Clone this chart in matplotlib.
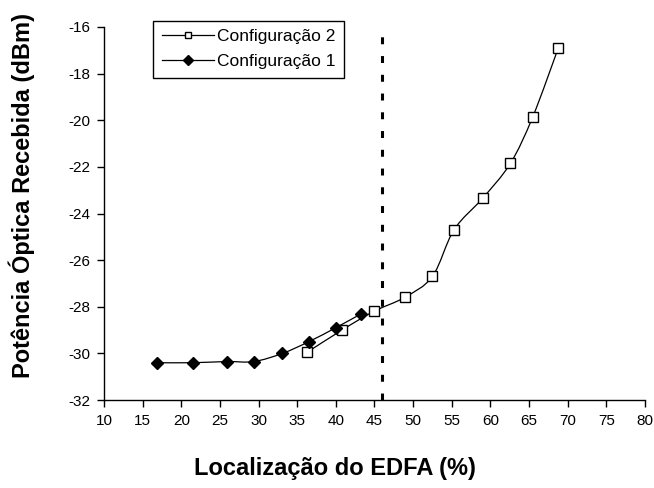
import numpy as np
import matplotlib
matplotlib.use("Agg")
import matplotlib.pyplot as plt
from matplotlib.path import Path
from matplotlib.patches import PathPatch
from matplotlib.lines import Line2D

plt.rcParams['font.family'] = ['Liberation Sans', 'DejaVu Sans']
plt.rcParams['lines.scale_dashes'] = False
plt.rcParams['axes.unicode_minus'] = False

# EDFA position (%) and received optical power (dBm)
config1_x = [16.8, 21.5, 25.9, 29.4, 33.1, 36.5, 40.0, 43.3]
config1_y = [-30.4, -30.4, -30.35, -30.35, -30.0, -29.5, -28.9, -28.3]

config2_x = [36.3, 40.8, 44.9, 48.9, 52.5, 55.3, 59.0, 62.6, 65.5, 68.8]
config2_y = [-29.95, -29.0, -28.2, -27.6, -26.7, -24.7, -23.35, -21.85, -19.85, -16.9]

limit_x = 46

x_ticks = list(range(10, 85, 5))
y_ticks = list(range(-32, -15, 2))


def smooth_path(xs, ys, tension=1 / 6):
    """Catmull-Rom style cubic Bezier path through the points."""
    pts = np.column_stack([xs, ys])
    verts = [pts[0]]
    codes = [Path.MOVETO]
    n = len(pts)
    for i in range(n - 1):
        p0 = pts[i - 1] if i > 0 else pts[i]
        p1 = pts[i]
        p2 = pts[i + 1]
        p3 = pts[i + 2] if i + 2 < n else pts[i + 1]
        c1 = p1 + (p2 - p0) * tension
        c2 = p2 - (p3 - p1) * tension
        verts += [c1, c2, p2]
        codes += [Path.CURVE4] * 3
    return Path(verts, codes)


fig = plt.figure(figsize=(6.54, 4.88), dpi=100)
ax = fig.add_axes([0.159, 0.1803, 0.827, 0.7644])
ax.set_xlim(10, 80)
ax.set_ylim(-32, -16)

# Smoothed connecting lines, built in display space so the curve follows the screen aspect
for xs, ys in [(config1_x, config1_y), (config2_x, config2_y)]:
    disp = ax.transData.transform(np.column_stack([xs, ys]))
    path = smooth_path(disp[:, 0], disp[:, 1])
    ax.add_patch(PathPatch(path, transform=None, fill=False, edgecolor='black',
                           linewidth=0.9, zorder=2))

ax.plot(config2_x, config2_y, linestyle='none', marker='s', markersize=6.5,
        markerfacecolor='white', markeredgecolor='black', markeredgewidth=1.0, zorder=3)
ax.plot(config1_x, config1_y, linestyle='none', marker='D', markersize=6.5,
        markerfacecolor='black', markeredgecolor='black', zorder=3)

ax.axvline(limit_x, color='black', linewidth=2.2, linestyle=(0, (5, 8.5)), zorder=1)

ax.set_xticks(x_ticks)
ax.set_yticks(y_ticks)
ax.tick_params(direction='out', length=5, width=1, labelsize=11, pad=5)
for side in ['top', 'right']:
    ax.spines[side].set_visible(False)
for side in ['left', 'bottom']:
    ax.spines[side].set_linewidth(1.0)

fig.text(0.512, 0.04, 'Localização do EDFA (%)', ha='center', va='center',
         fontsize=17, fontweight='bold')
fig.text(0.034, 0.60, 'Potência Óptica Recebida (dBm)', ha='center', va='center',
         rotation=90, fontsize=17, fontweight='bold')

handles = [
    Line2D([], [], color='black', linewidth=0.9, marker='s', markersize=5,
           markerfacecolor='white', markeredgecolor='black'),
    Line2D([], [], color='black', linewidth=0.9, marker='D', markersize=5,
           markerfacecolor='black'),
]
leg = ax.legend(handles, ['Configuração 2', 'Configuração 1'],
                loc='upper left', bbox_to_anchor=(0.0906, 1.0173), fontsize=12.5,
                frameon=True, fancybox=False, edgecolor='black', framealpha=1,
                borderpad=0.5, handlelength=3.0, handletextpad=0.2,
                labelspacing=0.55, borderaxespad=0)
leg.get_frame().set_linewidth(1.0)

fig.savefig('out.png', dpi=100)
